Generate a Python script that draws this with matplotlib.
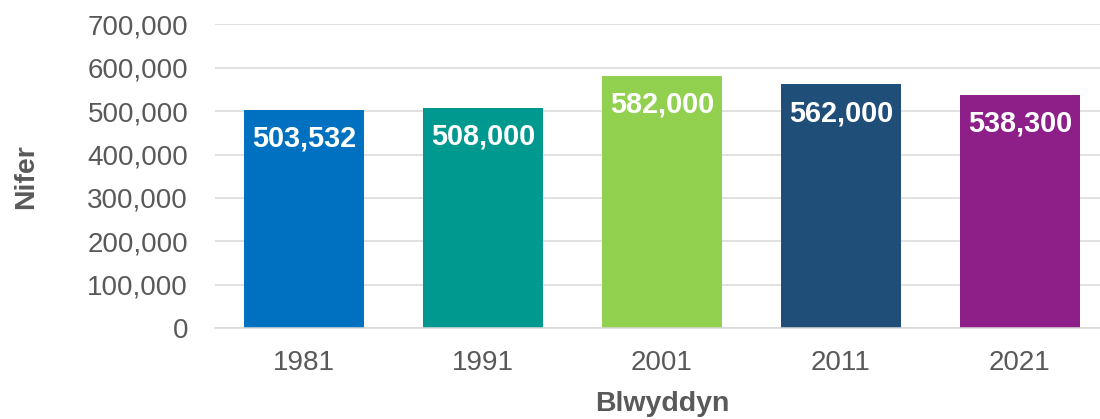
import matplotlib
matplotlib.use('Agg')
from matplotlib import pyplot as plt
from matplotlib.ticker import FuncFormatter

years = ['1981', '1991', '2001', '2011', '2021']
values = [503532, 508000, 582000, 562000, 538300]
labels = ['503,532', '508,000', '582,000', '562,000', '538,300']
colors = ['#0070C0', '#00998F', '#92D050', '#1F4E79', '#8E1F88']

plt.rcParams['font.family'] = ['Liberation Sans', 'DejaVu Sans']

fig = plt.figure(figsize=(11, 4.19), dpi=100)
ax = fig.add_axes([214.5 / 1100, 91 / 419, 895 / 1100, 303.5 / 419])

x = range(len(years))
ax.bar(x, values, width=0.67, color=colors, zorder=2)

for i, (v, lab) in enumerate(zip(values, labels)):
    ax.annotate(lab, (i, v), xytext=(0, -21), textcoords='offset points',
                ha='center', va='center', color='white',
                fontsize=20.8, fontweight='bold', zorder=3)

ax.set_xlim(-0.5, len(years) - 0.5)
ax.set_ylim(0, 700000)
ax.set_yticks(range(0, 700001, 100000))
ax.yaxis.set_major_formatter(FuncFormatter(lambda v, p: f'{int(v):,}'))
ax.set_xticks(list(x))
ax.set_xticklabels(years)

ax.grid(axis='y', color='#D9D9D9', linewidth=1.1, zorder=0)
for s in ['top', 'right', 'left']:
    ax.spines[s].set_visible(False)
ax.spines['bottom'].set_color('#D9D9D9')
ax.spines['bottom'].set_linewidth(1.1)

ax.tick_params(axis='y', length=0, pad=19, labelsize=20, labelcolor='#595959')
ax.tick_params(axis='x', length=0, pad=16, labelsize=20, labelcolor='#595959')

ax.set_ylabel('Nifer', fontsize=20.5, fontweight='bold', color='#595959')
ax.set_xlabel('Blwyddyn', fontsize=20.5, fontweight='bold', color='#595959')
ax.yaxis.set_label_coords(-188 / 895, 0.5)
ax.xaxis.set_label_coords(0.5, -76 / 303.5)
ax.xaxis.label.set_va('center')
ax.yaxis.label.set_va('center')

fig.savefig('out.png', dpi=100)
